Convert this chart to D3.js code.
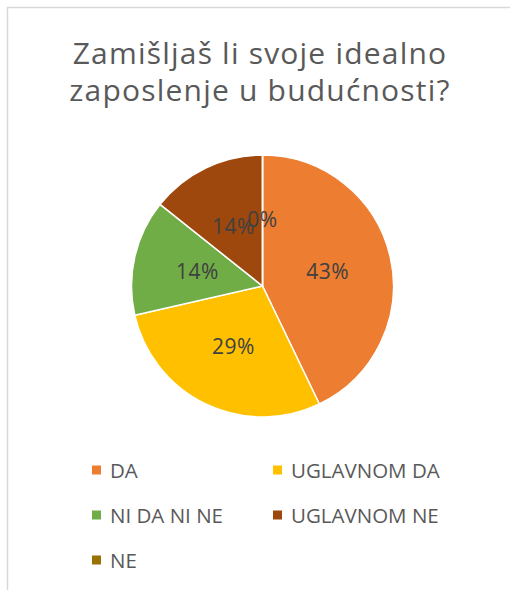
<!DOCTYPE html>
<html>
<head>
<meta charset="utf-8">
<script src="https://cdn.jsdelivr.net/npm/d3@7"></script>
<style>
  html, body { margin: 0; padding: 0; background: #fff; }
  svg { display: block; }
</style>
</head>
<body>
<svg id="chart" width="510" height="590"></svg>
<script>
// Survey answers and response counts
const categories = ["DA", "UGLAVNOM DA", "NI DA NI NE", "UGLAVNOM NE", "NE"];
const counts = [3, 2, 1, 1, 0];
const colors = ["#ED7D31", "#FFC000", "#70AD47", "#9E480E", "#997300"];
const titleLines = ["Zamišljaš li svoje idealno", "zaposlenje u budućnosti?"];

const FONT = "'Open Sans', Lato, sans-serif";
const svg = d3.select("#chart");

// Chart frame (extends past the visible area on the right and bottom)
svg.append("rect")
  .attr("x", 7.5).attr("y", 7.5)
  .attr("width", 600).attr("height", 600)
  .attr("fill", "#fff")
  .attr("stroke", "#D9D9D9")
  .attr("stroke-width", 1.5);

// Title
svg.append("g").selectAll("text")
  .data(titleLines)
  .join("text")
  .attr("x", 260)
  .attr("y", (d, i) => 64 + i * 37)
  .attr("text-anchor", "middle")
  .attr("font-family", FONT)
  .attr("font-size", 30)
  .attr("letter-spacing", 1.2)
  .attr("fill", "#595959")
  .text(d => d);

// Pie
const cx = 262.5, cy = 286, radius = 131;
const total = d3.sum(counts);
const pie = d3.pie().sort(null).value(d => d)(counts);
const arc = d3.arc().innerRadius(0).outerRadius(radius);
const labelArc = d3.arc().innerRadius(radius * 0.51).outerRadius(radius * 0.51);

const g = svg.append("g").attr("transform", `translate(${cx},${cy})`);

g.selectAll("path")
  .data(pie)
  .join("path")
  .attr("d", arc)
  .attr("fill", (d, i) => colors[i])
  .attr("stroke", "#fff")
  .attr("stroke-width", 1.5)
  .attr("stroke-linejoin", "round");

g.selectAll("text")
  .data(pie)
  .join("text")
  .attr("transform", d => `translate(${labelArc.centroid(d)})`)
  .attr("text-anchor", "middle")
  .attr("dominant-baseline", "central")
  .attr("font-family", FONT)
  .attr("font-size", 21)
  .attr("letter-spacing", 0.5)
  .attr("fill", "#404040")
  .text(d => Math.round(d.data / total * 100) + "%");

// Legend (two columns)
const legend = svg.append("g");
const items = legend.selectAll("g")
  .data(categories)
  .join("g")
  .attr("transform", (d, i) => `translate(${i % 2 === 0 ? 92 : 273},${470 + Math.floor(i / 2) * 45})`);

items.append("rect")
  .attr("x", 0).attr("y", -4.5)
  .attr("width", 9).attr("height", 9)
  .attr("fill", (d, i) => colors[i]);

items.append("text")
  .attr("x", 18)
  .attr("y", 0)
  .attr("dominant-baseline", "central")
  .attr("font-family", FONT)
  .attr("font-size", 20.5)
  .attr("fill", "#595959")
  .text(d => d);
</script>
</body>
</html>
